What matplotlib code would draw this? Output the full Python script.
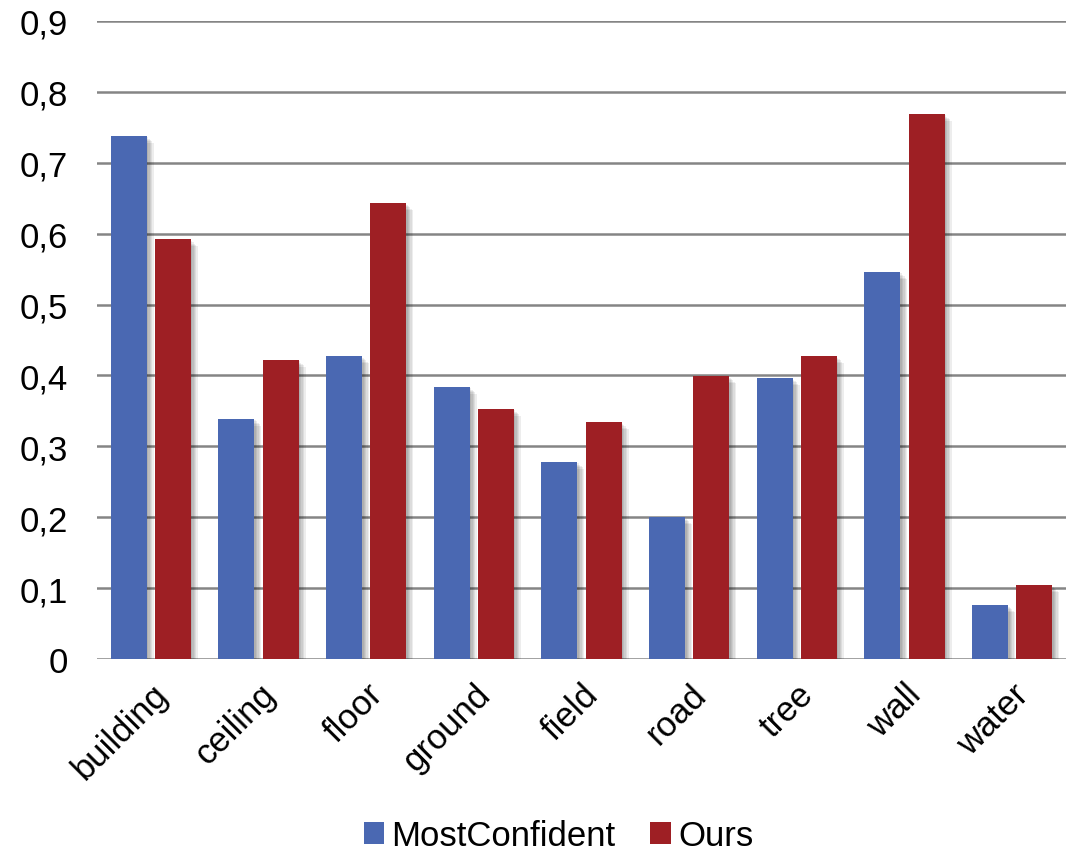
import matplotlib
matplotlib.use("Agg")
import matplotlib.pyplot as plt
import matplotlib.patheffects as pe
from matplotlib.patches import Patch
import numpy as np

plt.rcParams['font.family'] = ['Liberation Sans', 'DejaVu Sans']

categories = ["building", "ceiling", "floor", "ground", "field", "road", "tree", "wall", "water"]
most_confident = [0.738, 0.339, 0.427, 0.384, 0.278, 0.200, 0.396, 0.546, 0.076]
ours = [0.592, 0.422, 0.643, 0.353, 0.334, 0.399, 0.427, 0.769, 0.104]
yticks = [0, 0.1, 0.2, 0.3, 0.4, 0.5, 0.6, 0.7, 0.8, 0.9]
ytick_labels = ["0", "0,1", "0,2", "0,3", "0,4", "0,5", "0,6", "0,7", "0,8", "0,9"]

blue = "#4a68b2"
red = "#9e1f24"
fs = 25

fig = plt.figure(figsize=(10.74, 8.54), dpi=100)
ax = fig.add_axes([97 / 1074, 1 - 660 / 854, (1066 - 97) / 1074, (660 - 22) / 854])

x = np.arange(len(categories))
w = 0.335
off = 0.205

# soft drop shadow built from several faint offset copies
shadow = [pe.SimplePatchShadow(offset=(d, -d), shadow_rgbFace="black", alpha=0.07)
          for d in (1, 2, 3, 4, 5)] + [pe.Normal()]

b1 = ax.bar(x - off, most_confident, w, color=blue, zorder=3)
b2 = ax.bar(x + off, ours, w, color=red, zorder=3)
for bars in (b1, b2):
    for p in bars:
        p.set_path_effects(shadow)

ax.set_xlim(-0.5, len(categories) - 0.5)
ax.set_ylim(0, 0.9)
ax.set_yticks(yticks)
ax.set_yticklabels(ytick_labels, fontsize=fs)
ax.yaxis.grid(True, color="#858585", linewidth=1.8, zorder=0)
ax.set_axisbelow(True)
ax.tick_params(axis="y", length=0, pad=21)
ax.tick_params(axis="x", length=0, pad=13)
ax.set_xticks(x)
ax.set_xticklabels(categories, fontsize=fs, rotation=45, ha="right", rotation_mode="anchor")
for s in ax.spines.values():
    s.set_visible(False)

handles = [Patch(facecolor=blue), Patch(facecolor=red)]
fig.legend(handles=handles, labels=["MostConfident", "Ours"], loc="lower center",
           bbox_to_anchor=(0.52, -0.036), ncol=2, frameon=False, fontsize=fs,
           handlelength=0.6, handleheight=0.6, handletextpad=0.2, columnspacing=1.0)

fig.savefig("out.png", dpi=100)
